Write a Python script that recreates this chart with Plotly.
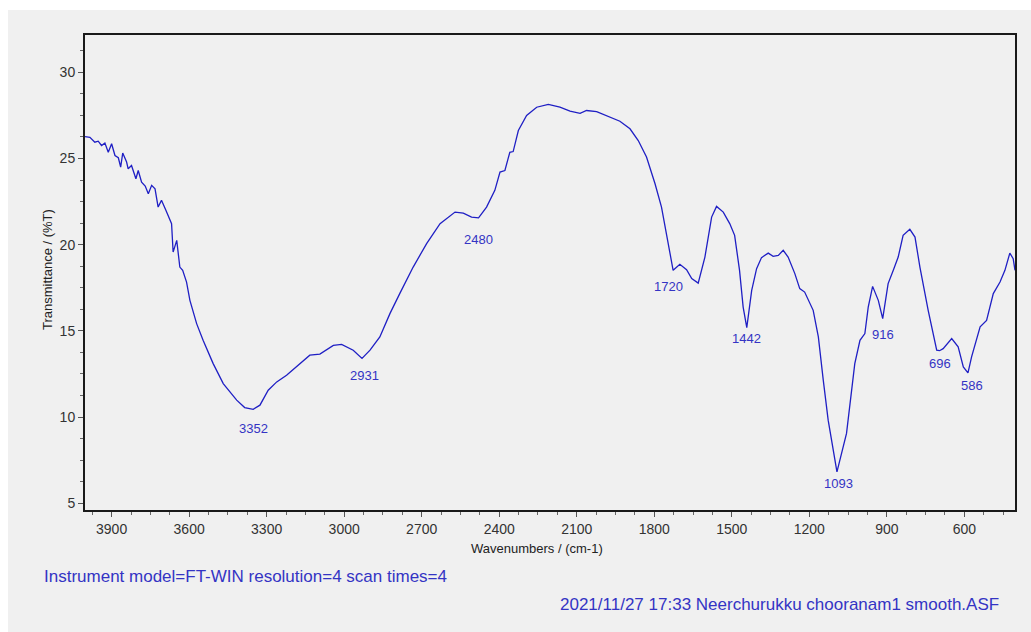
import numpy as np
import plotly.graph_objects as go

# ---- data ----
wavenumber = [4003, 3984, 3965, 3952, 3939, 3926, 3913, 3900, 3887, 3874, 3865, 3857,
              3842, 3836, 3823, 3806, 3797, 3784, 3770, 3758, 3745, 3732, 3720, 3707,
              3690, 3674, 3668, 3662, 3648, 3636, 3625, 3610, 3597, 3571, 3546, 3507,
              3468, 3416, 3385, 3352, 3326, 3294, 3261, 3223, 3184, 3133, 3094, 3042,
              3010, 2965, 2931, 2900, 2862, 2823, 2785, 2733, 2681, 2629, 2571, 2539,
              2507, 2480, 2449, 2436, 2417, 2397, 2378, 2359, 2346, 2326, 2294, 2255,
              2210, 2165, 2126, 2087, 2062, 2023, 1984, 1933, 1894, 1862, 1830, 1797,
              1772, 1752, 1727, 1701, 1675, 1655, 1630, 1604, 1578, 1559, 1533, 1508,
              1489, 1470, 1456, 1442, 1423, 1404, 1385, 1359, 1340, 1320, 1301, 1282,
              1256, 1237, 1218, 1185, 1165, 1146, 1127, 1093, 1056, 1024, 1004, 985,
              972, 955, 933, 916, 895, 875, 856, 837, 811, 791, 772, 740, 707, 696,
              682, 649, 624, 604, 586, 572, 539, 514, 488, 462, 443, 424, 411, 404]
transmittance = [26.27, 26.23, 25.94, 26.00, 25.75, 25.89, 25.36, 25.85, 25.17, 25.04, 24.50, 25.31,
                 24.79, 24.40, 24.59, 23.82, 24.30, 23.63, 23.40, 22.95, 23.44, 23.24, 22.18, 22.57,
                 21.99, 21.50, 21.22, 19.57, 20.25, 18.70, 18.51, 17.83, 16.77, 15.42, 14.45, 13.10,
                 11.94, 10.98, 10.55, 10.45, 10.69, 11.56, 12.04, 12.43, 12.91, 13.59, 13.65, 14.16,
                 14.22, 13.88, 13.40, 13.88, 14.65, 16.00, 17.16, 18.70, 20.06, 21.22, 21.89, 21.83,
                 21.60, 21.55, 22.18, 22.57, 23.15, 24.21, 24.30, 25.36, 25.40, 26.62, 27.49, 27.97,
                 28.13, 27.97, 27.74, 27.62, 27.78, 27.72, 27.49, 27.16, 26.72, 26.04, 25.08, 23.53,
                 22.18, 20.64, 18.51, 18.86, 18.55, 18.03, 17.77, 19.28, 21.60, 22.22, 21.89, 21.22,
                 20.54, 18.51, 16.38, 15.19, 17.35, 18.61, 19.25, 19.51, 19.32, 19.38, 19.67, 19.28,
                 18.32, 17.45, 17.25, 16.19, 14.65, 12.14, 9.82, 6.82, 9.05, 13.10, 14.45, 14.84,
                 16.38, 17.58, 16.77, 15.71, 17.74, 18.51, 19.28, 20.54, 20.89, 20.44, 18.70, 16.19,
                 13.88, 13.85, 13.97, 14.55, 14.07, 12.91, 12.56, 13.49, 15.23, 15.61, 17.16, 17.83,
                 18.51, 19.51, 19.19, 18.51]

peak_labels = [3352, 2931, 2480, 1720, 1442, 1093, 916, 696, 586]
x_tick_values = [3900, 3600, 3300, 3000, 2700, 2400, 2100, 1800, 1500, 1200, 900, 600]
y_tick_values = [5, 10, 15, 20, 25, 30]

x_title = "Wavenumbers / (cm-1)"
y_title = "Transmittance / (%T)"
footer_left = "Instrument model=FT-WIN resolution=4 scan times=4"
footer_right = "2021/11/27 17:33 Neerchurukku chooranam1 smooth.ASF"

# ---- figure ----
LINE_BLUE = "#1f1fc4"
TEXT_BLUE = "#3434c4"
PANEL = "#f0f0f0"
FONT = "Liberation Sans, Arial, sans-serif"

fig = go.Figure()
fig.add_trace(go.Scatter(x=wavenumber, y=transmittance, mode="lines",
                         line=dict(color=LINE_BLUE, width=1.3), showlegend=False,
                         hoverinfo="x+y"))

wn_sorted = np.array(wavenumber[::-1], dtype=float)
t_sorted = np.array(transmittance[::-1], dtype=float)
label_yshift = [-19, -17, -22, -18, -11, -12, -16, -13, -13]
label_xshift = [0, 2, 0, -6, 0, 2, 0, 0, 4]
for p, dy, dx in zip(peak_labels, label_yshift, label_xshift):
    t = float(np.interp(p, wn_sorted, t_sorted))
    fig.add_annotation(x=p, y=t, text=str(p), showarrow=False, yshift=dy, xshift=dx,
                       yanchor="middle", xanchor="center",
                       font=dict(family=FONT, size=13, color=TEXT_BLUE))

L, R, T, B = 85, 16, 35, 122
W, H = 1031, 632
pw, ph = W - L - R, H - T - B

def px_to_paper_x(px):
    return (px - L) / pw

def px_to_paper_y(py):
    return (H - B - py) / ph

# gray panel behind everything
fig.add_shape(type="rect", xref="paper", yref="paper",
              x0=px_to_paper_x(8), x1=px_to_paper_x(W + 2),
              y0=px_to_paper_y(H + 2), y1=px_to_paper_y(10),
              fillcolor=PANEL, line=dict(width=0), layer="below")

fig.add_annotation(xref="paper", yref="paper", x=px_to_paper_x(537), y=px_to_paper_y(548),
                   text=x_title, showarrow=False, xanchor="center", yanchor="middle",
                   font=dict(family=FONT, size=13, color="#222"))
fig.add_annotation(xref="paper", yref="paper", x=px_to_paper_x(47), y=px_to_paper_y(270),
                   text=y_title, showarrow=False, textangle=-90, xanchor="center", yanchor="middle",
                   font=dict(family=FONT, size=13, color="#222"))
fig.add_annotation(xref="paper", yref="paper", x=px_to_paper_x(42), y=px_to_paper_y(576),
                   text=footer_left, showarrow=False, xanchor="left", yanchor="middle",
                   font=dict(family=FONT, size=17, color=TEXT_BLUE))
fig.add_annotation(xref="paper", yref="paper", x=px_to_paper_x(1001), y=px_to_paper_y(604),
                   text=footer_right, showarrow=False, xanchor="right", yanchor="middle",
                   font=dict(family=FONT, size=17, color=TEXT_BLUE))

axis_common = dict(showline=True, linecolor="#1a1a1a", linewidth=2, mirror=True,
                   ticks="outside", ticklen=5, tickcolor="#555", tickwidth=1,
                   showgrid=False, zeroline=False,
                   tickfont=dict(family=FONT, size=14, color="#333"))

fig.update_xaxes(range=[4003, 404], tickvals=x_tick_values,
                 minor=dict(dtick=75, tick0=600, ticks="outside", ticklen=3, tickcolor="#666"),
                 **axis_common)
fig.update_yaxes(range=[4.61, 32.16], tickvals=y_tick_values,
                 minor=dict(dtick=1.25, tick0=5, ticks="outside", ticklen=3, tickcolor="#666"),
                 **axis_common)

fig.update_layout(width=W, height=H, autosize=False,
                  margin=dict(l=L, r=R, t=T, b=B, pad=0),
                  paper_bgcolor="white", plot_bgcolor=PANEL,
                  font=dict(family=FONT))

fig.write_html("out.html", config={"displayModeBar": False},
               post_script="document.body.style.margin='0';document.body.style.padding='0';"
                           "document.body.style.overflow='hidden';")
